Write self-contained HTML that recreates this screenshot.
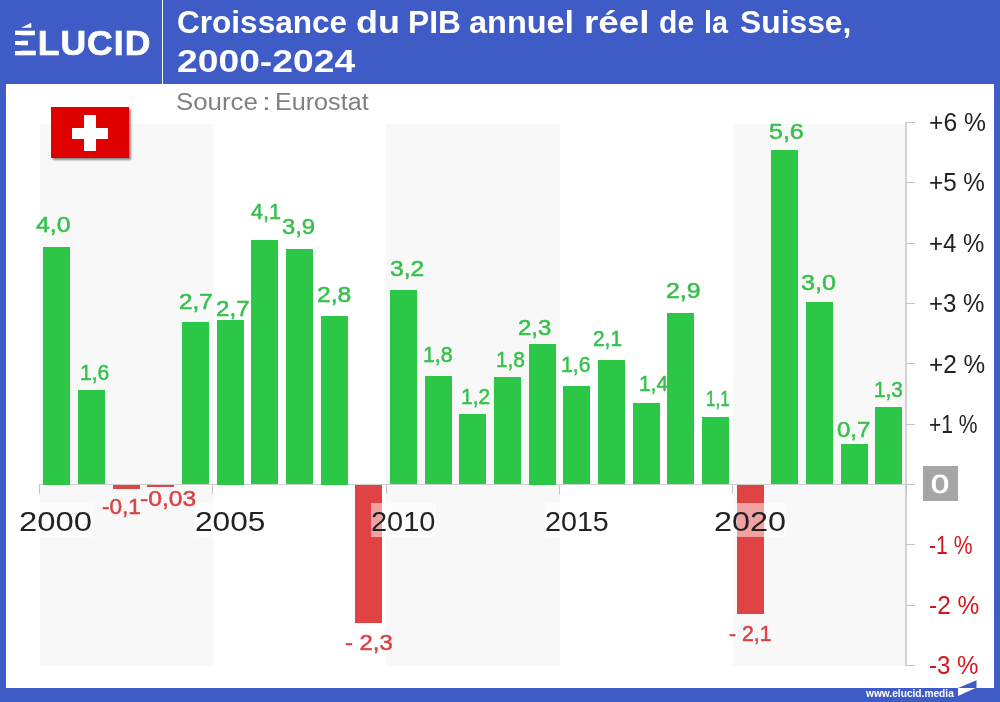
<!DOCTYPE html>
<html lang="fr"><head><meta charset="utf-8"><title>Croissance du PIB annuel réel de la Suisse, 2000-2024</title>
<style>
html,body{margin:0;padding:0}
body{width:1000px;height:702px;position:relative;overflow:hidden;background:#3f5bc5;font-family:"Liberation Sans",sans-serif}
.a{position:absolute}
.t{white-space:nowrap;transform-origin:0 0}
.panel{left:6px;top:84px;width:988px;height:604px;background:#fff}
.div{left:161.7px;top:0;width:1.6px;height:84px;background:#fff}
.w{color:#fff}
.stripe{top:123.5px;height:542px;background:#f8f8f8}
.bar{width:27px}
.g{background:#2cc746}.r{background:#e04344}
.lab{-webkit-text-stroke:.5px currentColor}
.lg{color:#35c04c}.lr{color:#d94345}
.yrbg{top:503px;height:34px;background:rgba(255,255,255,.5)}
.yr{color:#222}
.ax{color:#222}
.n{color:#d8141a}
.tick{left:906px;width:9px;height:1px;background:#c4c4c4}
</style></head><body>
<div class="a panel"></div>
<div class="a div"></div>

<div class="a t w" style="left:12.55px;top:23px;font-weight:700;font-size:35.5px;line-height:40px;letter-spacing:1px;transform:scaleX(1.0015);-webkit-text-stroke:.7px #fff">ÉLUCID</div>
<div class="a" style="left:12px;top:35.3px;width:9.2px;height:5.4px;background:#3f5bc5"></div>
<div class="a" style="left:12px;top:45.3px;width:9.2px;height:5.4px;background:#3f5bc5"></div>
<div class="a" style="left:27.8px;top:39px;width:9px;height:8px;background:#3f5bc5"></div>
<div class="a" style="left:18px;top:20px;width:17px;height:9.6px;background:#3f5bc5"></div>
<svg class="a" style="left:18px;top:20px" width="17" height="10" viewBox="18 20 17 10"><polygon points="21,27.7 31.3,22.8 31.3,27.7" fill="#fff"/></svg>
<div class="a w" style="left:0;top:3px;font-weight:700;font-size:31px;line-height:40px;white-space:nowrap;"><span class="a t" style="left:176.73px;top:0;transform:scaleX(1.0179)">Croissance</span> <span class="a t" style="left:355.55px;top:0;transform:scaleX(1.1594)">du</span> <span class="a t" style="left:407.55px;top:0;transform:scaleX(1.0238)">PIB</span> <span class="a t" style="left:469.35px;top:0;transform:scaleX(1.0481)">annuel</span> <span class="a t" style="left:584.02px;top:0;transform:scaleX(1.1882)">réel</span> <span class="a t" style="left:659.29px;top:0;transform:scaleX(0.9706)">de</span> <span class="a t" style="left:703.92px;top:0;transform:scaleX(0.9263)">la</span> <span class="a t" style="left:740.47px;top:0;transform:scaleX(1.0256)">Suisse,</span></div>
<div class="a t w" style="left:176.60px;top:42px;font-weight:700;font-size:31px;line-height:40px;transform:scaleX(1.2014);">2000-2024</div>
<div class="a " style="left:0;top:89px;font-size:23.5px;line-height:26px;color:#808080;white-space:nowrap;"><span class="a t" style="left:176.43px;top:0;transform:scaleX(1.1000)">Source</span> <span class="a t" style="left:261.66px;top:0;transform:scaleX(1.3500)">:</span> <span class="a t" style="left:274.86px;top:0;transform:scaleX(1.0698)">Eurostat</span></div>
<div class="a stripe" style="left:39.5px;width:173.2px"></div>
<div class="a stripe" style="left:386px;width:173.5px"></div>
<div class="a stripe" style="left:732.8px;width:173.2px"></div>
<div class="a" style="left:51px;top:107px;width:78px;height:51px;background:#e10000;box-shadow:1.5px 1.5px 2px rgba(0,0,0,.45)">
<div class="a" style="left:21px;top:21px;width:36px;height:10.5px;background:#fff"></div>
<div class="a" style="left:32.5px;top:8px;width:12.5px;height:36px;background:#fff"></div></div>
<div class="a" style="left:39px;top:484px;width:876px;height:1px;background:#cfcfcf"></div>
<div class="a" style="left:905px;top:122px;width:2px;height:544px;background:#d3d3d3"></div>
<div class="a tick" style="top:121.8px"></div>
<div class="a tick" style="top:182.2px"></div>
<div class="a tick" style="top:242.5px"></div>
<div class="a tick" style="top:302.9px"></div>
<div class="a tick" style="top:363.3px"></div>
<div class="a tick" style="top:423.6px"></div>
<div class="a tick" style="top:484.0px"></div>
<div class="a tick" style="top:544.4px"></div>
<div class="a tick" style="top:604.8px"></div>
<div class="a tick" style="top:665.1px"></div>
<div class="a" style="left:39.0px;top:485px;width:1px;height:9px;background:#c4c4c4"></div>
<div class="a" style="left:212.3px;top:485px;width:1px;height:9px;background:#c4c4c4"></div>
<div class="a" style="left:385.7px;top:485px;width:1px;height:9px;background:#c4c4c4"></div>
<div class="a" style="left:559.0px;top:485px;width:1px;height:9px;background:#c4c4c4"></div>
<div class="a" style="left:732.4px;top:485px;width:1px;height:9px;background:#c4c4c4"></div>
<div class="a" style="left:905.8px;top:485px;width:1px;height:9px;background:#c4c4c4"></div>
<div class="a bar g" style="left:43.3px;top:247.0px;height:237.5px"></div>
<div class="a bar g" style="left:78.0px;top:390.1px;height:94.4px"></div>
<div class="a bar r" style="left:112.7px;top:485.3px;height:3.7px"></div>
<div class="a bar r" style="left:147.3px;top:485.3px;height:1.9px"></div>
<div class="a bar g" style="left:182.0px;top:322.4px;height:162.1px"></div>
<div class="a bar g" style="left:216.7px;top:319.5px;height:165.0px"></div>
<div class="a bar g" style="left:251.4px;top:239.9px;height:244.6px"></div>
<div class="a bar g" style="left:286.0px;top:248.8px;height:235.7px"></div>
<div class="a bar g" style="left:320.7px;top:316.0px;height:168.5px"></div>
<div class="a bar r" style="left:355.4px;top:485.3px;height:137.7px"></div>
<div class="a bar g" style="left:390.0px;top:289.9px;height:194.6px"></div>
<div class="a bar g" style="left:424.7px;top:375.9px;height:108.6px"></div>
<div class="a bar g" style="left:459.4px;top:414.4px;height:70.1px"></div>
<div class="a bar g" style="left:494.0px;top:377.3px;height:107.2px"></div>
<div class="a bar g" style="left:528.7px;top:344.0px;height:140.5px"></div>
<div class="a bar g" style="left:563.4px;top:386.2px;height:98.3px"></div>
<div class="a bar g" style="left:598.1px;top:360.3px;height:124.2px"></div>
<div class="a bar g" style="left:632.7px;top:403.3px;height:81.2px"></div>
<div class="a bar g" style="left:667.4px;top:312.7px;height:171.8px"></div>
<div class="a bar g" style="left:702.1px;top:416.7px;height:67.8px"></div>
<div class="a bar r" style="left:736.7px;top:485.3px;height:128.6px"></div>
<div class="a bar g" style="left:771.4px;top:150.4px;height:334.1px"></div>
<div class="a bar g" style="left:806.1px;top:301.9px;height:182.6px"></div>
<div class="a bar g" style="left:840.7px;top:444.4px;height:40.1px"></div>
<div class="a bar g" style="left:875.4px;top:407.3px;height:77.2px"></div>
<div class="a yrbg" style="left:19.7px;width:73.0px"></div>
<div class="a t yr" style="left:19.44px;top:505px;font-size:28px;line-height:34px;transform:scaleX(1.1715);">2000</div>
<div class="a yrbg" style="left:194.7px;width:70.2px"></div>
<div class="a t yr" style="left:194.51px;top:505px;font-size:28px;line-height:34px;transform:scaleX(1.1294);">2005</div>
<div class="a yrbg" style="left:371.2px;width:64.8px"></div>
<div class="a t yr" style="left:371.15px;top:505px;font-size:28px;line-height:34px;transform:scaleX(1.0343);">2010</div>
<div class="a yrbg" style="left:545.1px;width:63.9px"></div>
<div class="a t yr" style="left:545.06px;top:505px;font-size:28px;line-height:34px;transform:scaleX(1.0235);">2015</div>
<div class="a yrbg" style="left:714.2px;width:72.2px"></div>
<div class="a t yr" style="left:713.96px;top:505px;font-size:28px;line-height:34px;transform:scaleX(1.1582);">2020</div>
<div class="a t lab lg" style="left:36.44px;top:214px;font-size:22px;line-height:22px;transform:scaleX(1.1282);">4,0</div>
<div class="a t lab lg" style="left:80.23px;top:362px;font-size:22px;line-height:22px;transform:scaleX(0.9536);">1,6</div>
<div class="a t lab lr" style="left:101.98px;top:496px;font-size:22px;line-height:22px;transform:scaleX(1.0238);">-0,1</div>
<div class="a t lab lr" style="left:139.88px;top:488px;font-size:22px;line-height:22px;transform:scaleX(1.1192);">-0,03</div>
<div class="a t lab lg" style="left:178.50px;top:291px;font-size:22px;line-height:22px;transform:scaleX(1.1018);">2,7</div>
<div class="a t lab lg" style="left:215.90px;top:298px;font-size:22px;line-height:22px;transform:scaleX(1.0982);">2,7</div>
<div class="a t lab lg" style="left:250.81px;top:201px;font-size:22px;line-height:22px;transform:scaleX(0.9793);">4,1</div>
<div class="a t lab lg" style="left:282.02px;top:216px;font-size:22px;line-height:22px;transform:scaleX(1.0807);">3,9</div>
<div class="a t lab lg" style="left:316.88px;top:284px;font-size:22px;line-height:22px;transform:scaleX(1.1235);">2,8</div>
<div class="a t lab lr" style="left:344.51px;top:632px;font-size:22px;line-height:22px;transform:scaleX(1.0857);">- 2,3</div>
<div class="a t lab lg" style="left:389.68px;top:258px;font-size:22px;line-height:22px;transform:scaleX(1.1193);">3,2</div>
<div class="a t lab lg" style="left:422.51px;top:344px;font-size:22px;line-height:22px;transform:scaleX(0.9643);">1,8</div>
<div class="a t lab lg" style="left:460.94px;top:386px;font-size:22px;line-height:22px;transform:scaleX(0.9514);">1,2</div>
<div class="a t lab lg" style="left:495.74px;top:349px;font-size:22px;line-height:22px;transform:scaleX(0.9464);">1,8</div>
<div class="a t lab lg" style="left:517.61px;top:317px;font-size:22px;line-height:22px;transform:scaleX(1.0887);">2,3</div>
<div class="a t lab lg" style="left:561.11px;top:354px;font-size:22px;line-height:22px;transform:scaleX(0.9679);">1,6</div>
<div class="a t lab lg" style="left:593.25px;top:328px;font-size:22px;line-height:22px;transform:scaleX(0.9474);">2,1</div>
<div class="a t lab lg" style="left:638.94px;top:373px;font-size:22px;line-height:22px;transform:scaleX(0.9487);">1,4</div>
<div class="a t lab lg" style="left:665.67px;top:280px;font-size:22px;line-height:22px;transform:scaleX(1.1298);">2,9</div>
<div class="a t lab lg" style="left:706.15px;top:388px;font-size:22px;line-height:22px;transform:scaleX(0.7712);">1,1</div>
<div class="a t lab lr" style="left:728.94px;top:623px;font-size:22px;line-height:22px;transform:scaleX(0.9643);">- 2,1</div>
<div class="a t lab lg" style="left:768.76px;top:121px;font-size:22px;line-height:22px;transform:scaleX(1.1374);">5,6</div>
<div class="a t lab lg" style="left:801.46px;top:272px;font-size:22px;line-height:22px;transform:scaleX(1.1409);">3,0</div>
<div class="a t lab lg" style="left:837.38px;top:419px;font-size:22px;line-height:22px;transform:scaleX(1.0922);">0,7</div>
<div class="a t lab lg" style="left:873.64px;top:379px;font-size:22px;line-height:22px;transform:scaleX(0.9464);">1,3</div>
<div class="a t ax" style="left:928.67px;top:107px;font-size:25px;line-height:30px;transform:scaleX(0.9874);">+6 %</div>
<div class="a t ax" style="left:928.79px;top:167px;font-size:25px;line-height:30px;transform:scaleX(0.9694);">+5 %</div>
<div class="a t ax" style="left:928.80px;top:228px;font-size:25px;line-height:30px;transform:scaleX(0.9586);">+4 %</div>
<div class="a t ax" style="left:928.80px;top:288px;font-size:25px;line-height:30px;transform:scaleX(0.9622);">+3 %</div>
<div class="a t ax" style="left:928.78px;top:349px;font-size:25px;line-height:30px;transform:scaleX(0.9730);">+2 %</div>
<div class="a t ax" style="left:928.95px;top:409px;font-size:25px;line-height:30px;transform:scaleX(0.8414);">+1 %</div>
<div class="a" style="left:923px;top:466px;width:35px;height:35px;background:#a6a6a6"></div>
<div class="a t w" style="left:930.65px;top:469px;font-size:26px;line-height:30px;transform:scaleX(1.2480);-webkit-text-stroke:.8px #fff">0</div>
<div class="a t n" style="left:929.15px;top:530px;font-size:25px;line-height:30px;transform:scaleX(0.8465);">-1 %</div>
<div class="a t n" style="left:929.02px;top:590px;font-size:25px;line-height:30px;transform:scaleX(0.9798);">-2 %</div>
<div class="a t n" style="left:929.04px;top:650px;font-size:25px;line-height:30px;transform:scaleX(0.9616);">-3 %</div>
<div class="a t w" style="left:865.70px;top:686px;font-weight:700;font-size:11.5px;line-height:14px;transform:scaleX(0.8846);">www.elucid.media</div>
<svg class="a" style="left:950px;top:676px" width="40" height="26" viewBox="950 676 40 26"><polygon points="958,688 976.5,680.3 976.5,688" fill="#3f5bc5"/><polygon points="958,688 975.5,688 958,696" fill="#fff"/></svg>

</body></html>
